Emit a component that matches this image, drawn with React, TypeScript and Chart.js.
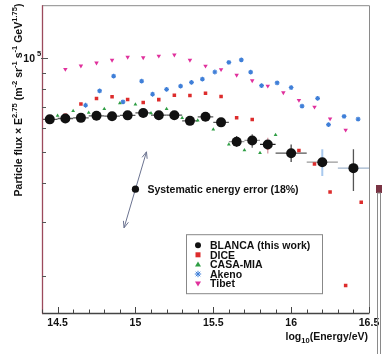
import React, { useEffect, useRef } from "react";
import { Chart, registerables } from "chart.js";
Chart.register(...registerables);

const FONT = '"Liberation Sans", Arial, Helvetica, sans-serif';

// ---- data ----
const blancaX = [14.45, 14.55, 14.65, 14.75, 14.85, 14.95, 15.05, 15.15, 15.25, 15.35, 15.45, 15.55, 15.65, 15.75, 15.85, 16.0, 16.2, 16.4];
const blancaY = [63800, 64200, 64500, 65500, 65300, 65700, 66900, 65800, 65800, 63100, 65000, 62400, 54100, 54600, 53000, 49700, 46500, 44500];
const blancaYLow = [62200, 62600, 62900, 63900, 63700, 64100, 65300, 64200, 64200, 61500, 63400, 60800, 52100, 51700, 49600, 46600, 42000, 37600];
const blancaYHigh = [65400, 65800, 66100, 67100, 66900, 67300, 68500, 67400, 67400, 64700, 66600, 64000, 56400, 57100, 55700, 53000, 51200, 51200];
const blancaXErr = [0.05, 0.05, 0.05, 0.05, 0.05, 0.05, 0.05, 0.05, 0.05, 0.05, 0.05, 0.05, 0.05, 0.05, 0.05, 0.1, 0.1, 0.1];

const diceX = [14.55, 14.65, 14.75, 14.85, 14.95, 15.05, 15.15, 15.25, 15.35, 15.45, 15.55, 15.65, 15.75, 15.85, 16.05, 16.15, 16.25, 16.35, 16.45];
const diceY = [65800, 71400, 74400, 75400, 73900, 72300, 73800, 76200, 76100, 77400, 75500, 64600, 63700, 51800, 50700, 45900, 37300, 18700, 34600];

const casaX = [14.5, 14.6, 14.7, 14.8, 14.9, 15.0, 15.1, 15.2, 15.3, 15.4, 15.5, 15.6, 15.7, 15.8, 15.9, 16.0];
const casaY = [65600, 67900, 67000, 68900, 71900, 71200, 66800, 68900, 64500, 63300, 59200, 53000, 50800, 49800, 56900, 49200];

const akenoX = [14.68, 14.77, 14.86, 14.92, 15.04, 15.11, 15.2, 15.29, 15.36, 15.43, 15.51, 15.6, 15.68, 15.74, 15.81, 15.91, 16.0, 16.07, 16.17, 16.24, 16.34, 16.43];
const akenoY = [70800, 78700, 87800, 72600, 84600, 76800, 79600, 81500, 83800, 85900, 90500, 97100, 99000, 90400, 81800, 83500, 80700, 70300, 74500, 61400, 65200, 63900];

const tibetX = [14.55, 14.65, 14.75, 14.85, 14.95, 15.05, 15.15, 15.25, 15.35, 15.45, 15.55, 15.65, 15.75, 15.85, 15.95, 16.05, 16.15, 16.25, 16.35];
const tibetY = [92400, 94700, 96800, 98800, 101000, 100700, 101900, 102700, 98800, 94600, 92200, 88500, 84900, 81600, 77700, 73500, 69900, 64100, 59000];

const seriesLabels = ["BLANCA (this work)", "DICE", "CASA-MIA", "Akeno", "Tibet"];

const xMin = 14.4;
const xMax = 16.5;
const yMin = 15270;
const yMax = 148200;
const xTickLabels = ["14.5", "15", "15.5", "16", "16.5"];
const yMinorTicks = [20000, 30000, 40000, 50000, 60000, 70000, 80000, 90000];
const yMajorTick = 100000;

// annotation: systematic energy error arrow (data coords)
const sysArrowTop = { x: 15.071, y: 50200 };
const sysArrowBottom = { x: 14.927, y: 28640 };
const sysDot = { x: 15.0, y: 38100 };
const sysText = "Systematic energy error (18%)";

const COL = {
  blanca: "#111111",
  dice: "#dd2c2c",
  casa: "#2f9e44",
  akeno: "#3f7fd8",
  tibet: "#e0309c",
};

const vErrColors = ["#555", "#555", "#555", "#555", "#555", "#555", "#555", "#555", "#555", "#555", "#555", "#555", "#555", "#666", "#d89aa6", "#444", "#a9c9ee", "#555"];
const hErrColors = ["#555", "#555", "#555", "#555", "#555", "#555", "#555", "#555", "#555", "#555", "#555", "#555", "#999", "#999", "#222", "#555", "#999", "#9fb4cc"];

type Part = { t: string; s?: "sup" | "sub" };

function drawRich(ctx: CanvasRenderingContext2D, parts: Part[], x: number, y: number, size: number, align: "left" | "center" | "right") {
  const small = size * 0.72;
  let w = 0;
  const widths: number[] = [];
  for (const p of parts) {
    ctx.font = `bold ${p.s ? small : size}px ${FONT}`;
    const pw = ctx.measureText(p.t).width;
    widths.push(pw);
    w += pw;
  }
  let cx = align === "center" ? x - w / 2 : align === "right" ? x - w : x;
  ctx.textAlign = "left";
  ctx.textBaseline = "alphabetic";
  parts.forEach((p, i) => {
    ctx.font = `bold ${p.s ? small : size}px ${FONT}`;
    const dy = p.s === "sup" ? -size * 0.42 : p.s === "sub" ? size * 0.3 : 0;
    ctx.fillText(p.t, cx, y + dy);
    cx += widths[i];
  });
}

function marker(ctx: CanvasRenderingContext2D, kind: string, x: number, y: number) {
  ctx.save();
  if (kind === "circle") {
    ctx.fillStyle = COL.blanca;
    ctx.beginPath();
    ctx.arc(x, y, 3, 0, Math.PI * 2);
    ctx.fill();
  } else if (kind === "square") {
    ctx.fillStyle = COL.dice;
    ctx.fillRect(x - 2.5, y - 2.5, 5, 5);
  } else if (kind === "tri") {
    ctx.fillStyle = COL.casa;
    ctx.beginPath();
    ctx.moveTo(x, y - 3);
    ctx.lineTo(x + 3, y + 2.2);
    ctx.lineTo(x - 3, y + 2.2);
    ctx.closePath();
    ctx.fill();
  } else if (kind === "star") {
    ctx.strokeStyle = COL.akeno;
    ctx.lineWidth = 1;
    ctx.beginPath();
    for (let k = 0; k < 4; k++) {
      const a = (k * Math.PI) / 4;
      ctx.moveTo(x - 3.2 * Math.cos(a), y - 3.2 * Math.sin(a));
      ctx.lineTo(x + 3.2 * Math.cos(a), y + 3.2 * Math.sin(a));
    }
    ctx.stroke();
  } else if (kind === "itri") {
    ctx.fillStyle = COL.tibet;
    ctx.beginPath();
    ctx.moveTo(x, y + 3);
    ctx.lineTo(x + 3, y - 2.2);
    ctx.lineTo(x - 3, y - 2.2);
    ctx.closePath();
    ctx.fill();
  }
  ctx.restore();
}

function arrowHead(ctx: CanvasRenderingContext2D, fx: number, fy: number, tx: number, ty: number) {
  const ang = Math.atan2(ty - fy, tx - fx);
  const len = 7;
  ctx.beginPath();
  ctx.moveTo(tx - len * Math.cos(ang - 0.38), ty - len * Math.sin(ang - 0.38));
  ctx.lineTo(tx, ty);
  ctx.lineTo(tx - len * Math.cos(ang + 0.38), ty - len * Math.sin(ang + 0.38));
  ctx.stroke();
}

const decor = {
  id: "decor",
  beforeDatasetsDraw(chart: any) {
    const { ctx, chartArea, scales } = chart;
    const x = scales.x;
    const y = scales.y;
    ctx.save();
    ctx.beginPath();
    ctx.rect(chartArea.left, chartArea.top, chartArea.right - chartArea.left, chartArea.bottom - chartArea.top);
    ctx.clip();
    blancaX.forEach((xv, i) => {
      const px = x.getPixelForValue(xv);
      const py = y.getPixelForValue(blancaY[i]);
      ctx.lineWidth = 1.3;
      ctx.strokeStyle = hErrColors[i];
      ctx.beginPath();
      ctx.moveTo(x.getPixelForValue(xv - blancaXErr[i]), py);
      ctx.lineTo(x.getPixelForValue(xv + blancaXErr[i]), py);
      ctx.stroke();
      ctx.strokeStyle = vErrColors[i];
      ctx.lineWidth = i === 16 ? 2 : 1.3;
      ctx.beginPath();
      ctx.moveTo(px, y.getPixelForValue(blancaYLow[i]));
      ctx.lineTo(px, y.getPixelForValue(blancaYHigh[i]));
      ctx.stroke();
    });
    ctx.restore();
  },
  afterDraw(chart: any) {
    const { ctx, chartArea, scales } = chart;
    const x = scales.x;
    const y = scales.y;
    const { left, right, top, bottom } = chartArea;
    ctx.save();

    // frame
    ctx.lineWidth = 1;
    ctx.strokeStyle = "#8a8a8a";
    ctx.beginPath();
    ctx.moveTo(left, top + 0.5);
    ctx.lineTo(right + 0.5, top + 0.5);
    ctx.lineTo(right + 0.5, bottom);
    ctx.stroke();
    ctx.strokeStyle = "#444";
    ctx.lineWidth = 1.3;
    ctx.beginPath();
    ctx.moveTo(left, bottom + 0.5);
    ctx.lineTo(right + 0.5, bottom + 0.5);
    ctx.stroke();
    ctx.strokeStyle = "#9c4a5c";
    ctx.beginPath();
    ctx.moveTo(left + 0.5, top);
    ctx.lineTo(left + 0.5, bottom + 0.5);
    ctx.stroke();

    // x ticks
    ctx.strokeStyle = "#444";
    ctx.lineWidth = 1;
    for (let i = Math.round(xMin * 10); i <= Math.round(xMax * 10); i++) {
      const v = i / 10;
      const px = Math.round(x.getPixelForValue(v)) + 0.5;
      const len = i % 5 === 0 ? 6 : 3.5;
      ctx.beginPath();
      ctx.moveTo(px, bottom);
      ctx.lineTo(px, bottom - len);
      ctx.stroke();
    }
    // y ticks
    ctx.strokeStyle = "#555";
    yMinorTicks.forEach((v) => {
      const py = Math.round(y.getPixelForValue(v)) + 0.5;
      ctx.beginPath();
      ctx.moveTo(left, py);
      ctx.lineTo(left + 4, py);
      ctx.stroke();
    });
    {
      const py = Math.round(y.getPixelForValue(yMajorTick)) + 0.5;
      ctx.beginPath();
      ctx.moveTo(left - 1, py);
      ctx.lineTo(left + 6, py);
      ctx.stroke();
    }

    ctx.fillStyle = "#111";
    // x tick labels
    xTickLabels.forEach((lbl) => {
      const px = x.getPixelForValue(parseFloat(lbl));
      drawRich(ctx, [{ t: lbl }], px, bottom + 13, 10.5, "center");
    });
    // y tick label 10^5
    {
      const py = y.getPixelForValue(yMajorTick);
      drawRich(ctx, [{ t: "10" }], left - 7, py + 4, 10.5, "right");
      ctx.font = `bold 7.5px ${FONT}`;
      ctx.textAlign = "left";
      ctx.fillText("5", left - 5, py - 2.5);
    }
    // x title
    drawRich(ctx, [{ t: "log" }, { t: "10", s: "sub" }, { t: "(Energy/eV)" }], right - 1, bottom + 27, 10.5, "right");
    // y title
    ctx.save();
    ctx.translate(21.5, 100);
    ctx.rotate(-Math.PI / 2);
    drawRich(
      ctx,
      [
        { t: "Particle flux \u00d7 E" },
        { t: "2.75", s: "sup" },
        { t: " (m" },
        { t: "-2", s: "sup" },
        { t: " sr" },
        { t: "-1", s: "sup" },
        { t: " s" },
        { t: "-1", s: "sup" },
        { t: " GeV" },
        { t: "1.75", s: "sup" },
        { t: ")" },
      ],
      0,
      0,
      10.5,
      "center"
    );
    ctx.restore();

    // annotation arrow
    const ax1 = x.getPixelForValue(sysArrowBottom.x);
    const ay1 = y.getPixelForValue(sysArrowBottom.y);
    const ax2 = x.getPixelForValue(sysArrowTop.x);
    const ay2 = y.getPixelForValue(sysArrowTop.y);
    ctx.strokeStyle = "#6b7390";
    ctx.lineWidth = 1;
    ctx.beginPath();
    ctx.moveTo(ax1, ay1);
    ctx.lineTo(ax2, ay2);
    ctx.stroke();
    arrowHead(ctx, ax1, ay1, ax2, ay2);
    arrowHead(ctx, ax2, ay2, ax1, ay1);
    const dx = x.getPixelForValue(sysDot.x);
    const dy = y.getPixelForValue(sysDot.y);
    ctx.fillStyle = "#111";
    ctx.beginPath();
    ctx.arc(dx, dy, 3.6, 0, Math.PI * 2);
    ctx.fill();
    drawRich(ctx, [{ t: sysText }], dx + 12, dy + 4, 10.5, "left");

    // legend
    const bx = left + 144;
    const by = top + 229;
    const bw = 136;
    const bh = 59;
    ctx.fillStyle = "#fff";
    ctx.fillRect(bx, by, bw, bh);
    ctx.strokeStyle = "#888";
    ctx.lineWidth = 1;
    ctx.strokeRect(bx + 0.5, by + 0.5, bw, bh);
    const kinds = ["circle", "square", "tri", "star", "itri"];
    seriesLabels.forEach((lbl, i) => {
      const ry = by + 11 + i * 9.6;
      marker(ctx, kinds[i], bx + 12, ry);
      ctx.fillStyle = "#111";
      drawRich(ctx, [{ t: lbl }], bx + 24, ry + 3.8, 10.5, "left");
    });

    // scan edge artefact at right
    ctx.fillStyle = "#7a3444";
    ctx.fillRect(376, 185, 6, 8);
    ctx.strokeStyle = "#8a8a8a";
    ctx.lineWidth = 1;
    ctx.strokeRect(377.5, 193, 3, 170);

    ctx.restore();
  },
};

export default function App() {
  const ref = useRef<HTMLCanvasElement | null>(null);
  useEffect(() => {
    document.body.style.margin = "0";
    const canvas = ref.current;
    if (!canvas) return;
    const toPts = (xs: number[], ys: number[]) => xs.map((v, i) => ({ x: v, y: ys[i] }));
    const chart = new Chart(canvas, {
      type: "scatter",
      data: {
        datasets: [
          {
            label: seriesLabels[0],
            data: toPts(blancaX, blancaY),
            pointStyle: "circle",
            pointRadius: 5,
            backgroundColor: COL.blanca,
            borderColor: COL.blanca,
            borderWidth: 0,
          },
          {
            label: seriesLabels[1],
            data: toPts(diceX, diceY),
            pointStyle: "rect",
            pointRadius: 2.5,
            backgroundColor: COL.dice,
            borderColor: COL.dice,
            borderWidth: 0,
          },
          {
            label: seriesLabels[2],
            data: toPts(casaX, casaY),
            pointStyle: "triangle",
            pointRadius: 2.2,
            backgroundColor: COL.casa,
            borderColor: COL.casa,
            borderWidth: 0,
          },
          {
            label: seriesLabels[3],
            data: toPts(akenoX, akenoY),
            pointStyle: "star",
            pointRadius: 2.4,
            backgroundColor: COL.akeno,
            borderColor: COL.akeno,
            borderWidth: 1.2,
          },
          {
            label: seriesLabels[4],
            data: toPts(tibetX, tibetY),
            pointStyle: "triangle",
            rotation: 180,
            pointRadius: 2.6,
            backgroundColor: COL.tibet,
            borderColor: COL.tibet,
            borderWidth: 0,
          },
        ],
      },
      options: {
        responsive: false,
        maintainAspectRatio: false,
        animation: false,
        devicePixelRatio: 1,
        layout: { padding: { top: 5, right: 13, left: 0, bottom: 0 } },
        plugins: { legend: { display: false }, tooltip: { enabled: false } },
        scales: {
          x: {
            type: "linear",
            min: xMin,
            max: xMax,
            grid: { display: false },
            border: { display: false },
            ticks: { display: false },
            afterFit: (s: any) => {
              s.height = 41;
            },
          },
          y: {
            type: "logarithmic",
            min: yMin,
            max: yMax,
            grid: { display: false },
            border: { display: false },
            ticks: { display: false },
            afterFit: (s: any) => {
              s.width = 42;
            },
          },
        },
      },
      plugins: [decor],
    } as any);
    return () => chart.destroy();
  }, []);
  return <canvas ref={ref} width={382} height={354} style={{ display: "block" }} />;
}
